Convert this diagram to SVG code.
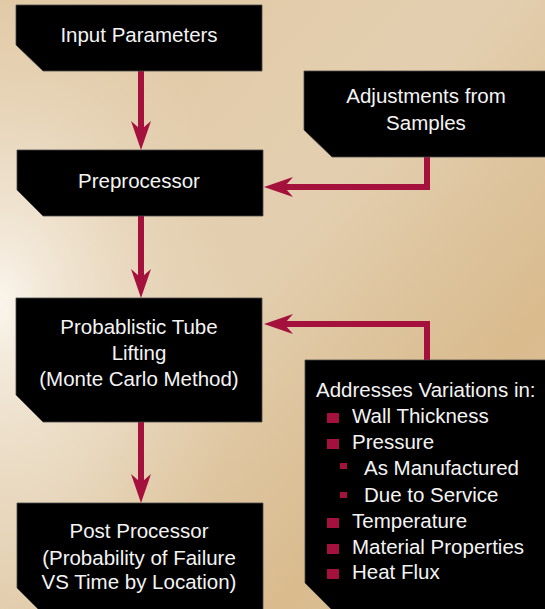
<svg xmlns="http://www.w3.org/2000/svg" width="545" height="609" viewBox="0 0 545 609">
<defs>
<linearGradient id="bg" x1="0" y1="0" x2="1" y2="1">
<stop offset="0" stop-color="#e0c7a2"/>
<stop offset="0.45" stop-color="#e3cfb0"/>
<stop offset="0.75" stop-color="#d9bb8e"/>
<stop offset="1" stop-color="#dcc29c"/>
</linearGradient>
<radialGradient id="glow" cx="0" cy="0.5" r="0.45" gradientTransform="translate(0,0.5) scale(1,1.3) translate(0,-0.5)">
<stop offset="0" stop-color="#fbf7f0" stop-opacity="0.95"/>
<stop offset="0.5" stop-color="#f1e6d5" stop-opacity="0.5"/>
<stop offset="1" stop-color="#e8d7bc" stop-opacity="0"/>
</radialGradient>
<marker id="ah" markerUnits="userSpaceOnUse" viewBox="-10 -11 31 22" markerWidth="31" markerHeight="22" refX="0" refY="0" orient="auto">
<path d="M20,0 L-9,-10 Q-3,-3 0,0 Q-3,3 -9,10 Z" fill="#a5113d"/>
</marker>
</defs>
<style>
.box{fill:#000;stroke:#4a4a4a;stroke-width:0.8}
.t{font-family:"Liberation Sans",Arial,sans-serif;font-size:20.5px;fill:#f4f4f4}
.c{text-anchor:middle}
.con{fill:none;stroke:#a5113d;stroke-width:6;marker-end:url(#ah)}
.b{fill:#a5113d}
</style>
<rect width="545" height="609" fill="url(#bg)"/>
<rect width="545" height="609" fill="url(#glow)"/>

<g id="connectors">
<path class="con" d="M141,71 V130"/>
<path class="con" d="M141,216 V278"/>
<path class="con" d="M141,422 V483"/>
<path class="con" d="M427,157 V187 H284"/>
<path class="con" d="M427,360 V324 H284"/>
</g>

<g id="input">
<path class="box" d="M16,5 H262 V71 H43 L16,45 Z"/>
<text class="t c" x="139" y="42">Input Parameters</text>
</g>

<g id="adjust">
<path class="box" d="M304,71 H546 V157 H332 L304,130 Z"/>
<text class="t c" x="426" y="103">Adjustments from</text>
<text class="t c" x="426" y="130">Samples</text>
</g>

<g id="preprocessor">
<path class="box" d="M17,150 H263 V216 H43 L17,190 Z"/>
<text class="t c" x="139" y="188">Preprocessor</text>
</g>

<g id="probabilistic">
<path class="box" d="M16,298 H262 V422 H43 L16,395 Z"/>
<text class="t c" x="139" y="334">Probablistic Tube</text>
<text class="t c" x="139" y="360">Lifting</text>
<text class="t c" x="139" y="386">(Monte Carlo Method)</text>
</g>

<g id="postprocessor">
<path class="box" d="M17,503 H263 V615 H44 L17,588 Z"/>
<text class="t c" x="139" y="538">Post Processor</text>
<text class="t c" x="139" y="565">(Probability of Failure</text>
<text class="t c" x="139" y="589">VS Time by Location)</text>
</g>

<g id="variations">
<path class="box" d="M305,360 H546 V615 H337 L305,583 Z"/>
<text class="t" x="316" y="397">Addresses Variations in:</text>
<rect class="b" x="327" y="413" width="12" height="10"/>
<text class="t" x="352" y="423">Wall Thickness</text>
<rect class="b" x="327" y="439" width="12" height="10"/>
<text class="t" x="352" y="449">Pressure</text>
<rect class="b" x="340" y="463" width="7" height="6"/>
<text class="t" x="364" y="475">As Manufactured</text>
<rect class="b" x="340" y="492" width="7" height="6"/>
<text class="t" x="364" y="502">Due to Service</text>
<rect class="b" x="327" y="518" width="12" height="10"/>
<text class="t" x="352" y="528">Temperature</text>
<rect class="b" x="327" y="544" width="12" height="10"/>
<text class="t" x="352" y="554">Material Properties</text>
<rect class="b" x="327" y="569" width="12" height="10"/>
<text class="t" x="352" y="579">Heat Flux</text>
</g>
</svg>
